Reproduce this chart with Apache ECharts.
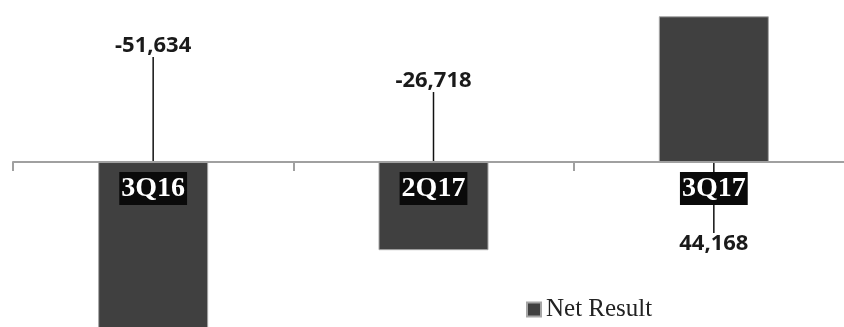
<!DOCTYPE html>
<html>
<head>
<meta charset="utf-8">
<script src="https://cdn.jsdelivr.net/npm/echarts@6/dist/echarts.min.js"></script>
<style>
  html, body { margin: 0; padding: 0; background: #fff; }
  #chart { width: 844px; height: 327px; }
</style>
</head>
<body>
<div id="chart"></div>
<script>
const categories = ['3Q16', '2Q17', '3Q17']
const netResult = [-51634, -26718, 44168]
const seriesName = 'Net Result'

// how far each value label sits from the zero line (px), as in the source
const labelShift = [-116, -81, 82]

const gridTop = 2
const gridHeight = 358
const yMin = -60000
const yMax = 48500
// distance from the grid bottom up to the zero line, so the axis sits on zero
const zeroOffset = gridHeight * (-yMin) / (yMax - yMin)

const chart = echarts.init(document.getElementById('chart'))

chart.setOption({
  animation: false,
  grid: { left: 13, right: -10, top: gridTop, height: gridHeight, outerBoundsMode: 'none' },
  legend: {
    data: [seriesName],
    left: 521,
    top: 292,
    icon: 'rect',
    itemWidth: 14,
    itemHeight: 14,
    textStyle: { fontFamily: 'Liberation Serif', fontSize: 25, color: '#222' }
  },
  xAxis: {
    type: 'category',
    data: categories,
    z: 10,
    offset: -zeroOffset,
    axisLine: { onZero: false, lineStyle: { color: '#a0a0a0', width: 2 } },
    axisTick: { show: true, length: 9, lineStyle: { color: '#a0a0a0', width: 2 } },
    axisLabel: {
      margin: 10,
      color: '#fff',
      backgroundColor: '#0a0a0a',
      fontFamily: 'Liberation Serif',
      fontWeight: 'bold',
      fontSize: 28,
      lineHeight: 30,
      padding: [2, 2, 1, 2]
    }
  },
  yAxis: {
    type: 'value',
    min: yMin,
    max: yMax,
    show: false,
    splitLine: { show: false }
  },
  series: [{
    name: seriesName,
    type: 'bar',
    data: netResult,
    barWidth: 110,
    itemStyle: { color: '#404040', borderColor: '#a6a6a6', borderWidth: 1 },
    label: {
      show: true,
      position: 'inside',
      formatter: p => p.value.toLocaleString('en-US'),
      fontFamily: 'Noto Sans',
      fontWeight: 'bold',
      fontSize: 22,
      color: '#1a1a1a',
      padding: [11, 0, 12, 0]
    },
    labelLine: { show: true, lineStyle: { color: '#111', width: 1.5 } },
    labelLayout: p => {
      const r = p.rect
      const top = Math.min(r.y, r.y + r.height)
      const bottom = Math.max(r.y, r.y + r.height)
      const zeroY = netResult[p.dataIndex] < 0 ? top : bottom
      return {
        x: r.x + r.width / 2,
        y: zeroY + labelShift[p.dataIndex],
        align: 'center',
        verticalAlign: 'middle'
      }
    }
  }]
})
</script>
</body>
</html>
